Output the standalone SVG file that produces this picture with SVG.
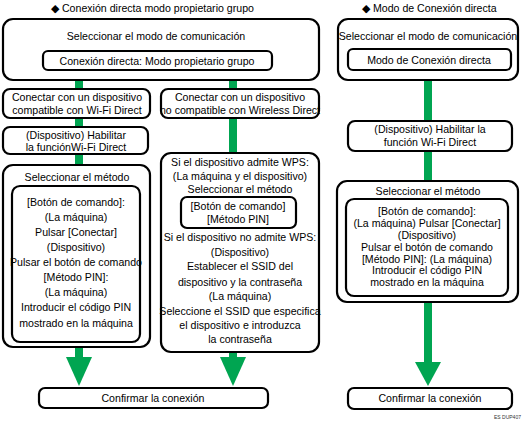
<svg xmlns="http://www.w3.org/2000/svg" width="524" height="422" viewBox="0 0 524 422">
<style>
.b{fill:#fff;stroke:#000;stroke-width:2.2}
text{font-family:"Liberation Sans",Arial,sans-serif;font-size:10.6px;fill:#000;text-anchor:middle}
.t{text-anchor:start}
.g{fill:#00a551}
.s{font-size:5px;text-anchor:start;fill:#333}
</style>
<rect width="524" height="422" fill="#fff"/>
<g id="connectors">
<rect class="g" x="75" y="80" width="8" height="10"/>
<rect class="g" x="229" y="80" width="8" height="10"/>
<rect class="g" x="75" y="118" width="8" height="10"/>
<rect class="g" x="75" y="154" width="8" height="12"/>
<rect class="g" x="229" y="118" width="8" height="36"/>
<rect class="g" x="75" y="346" width="8" height="12"/>
<polygon class="g" points="66,357 92,357 79,386"/>
<rect class="g" x="229" y="351" width="8" height="7"/>
<polygon class="g" points="220,357 246,357 233,386"/>
<rect class="g" x="424" y="80" width="8" height="41"/>
<rect class="g" x="424" y="151" width="8" height="30"/>
<rect class="g" x="424" y="302" width="8" height="61"/>
<polygon class="g" points="415,362 441,362 428,386"/>
</g>
<g id="title1"><text class="t" x="51" y="12">◆ Conexión directa modo propietario grupo</text></g>
<g id="title2"><text class="t" x="362" y="12">◆ Modo de Conexión directa</text></g>
<g id="selmodo1">
<rect class="b" x="3" y="19" width="316" height="61" rx="10"/>
<text x="156" y="40">Seleccionar el modo de comunicación</text>
<rect class="b" x="43" y="51" width="229" height="19" rx="5"/>
<text x="157" y="64.5">Conexión directa: Modo propietario grupo</text>
</g>
<g id="conectar1">
<rect class="b" x="3" y="89" width="147" height="29" rx="7"/>
<text x="77" y="101">Conectar con un dispositivo</text>
<text x="77" y="114">compatible con Wi-Fi Direct</text>
</g>
<g id="conectar2">
<rect class="b" x="161" y="89" width="158" height="29" rx="7"/>
<text x="240" y="101">Conectar con un dispositivo</text>
<text x="240" y="114">no compatible con Wireless Direct</text>
</g>
<g id="habilitar1">
<rect class="b" x="3" y="127" width="145" height="27" rx="7"/>
<text x="76" y="139">(Dispositivo) Habilitar</text>
<text x="76" y="151">la funciónWi-Fi Direct</text>
</g>
<g id="metodo1">
<rect class="b" x="3" y="165" width="147" height="182" rx="10"/>
<text x="77" y="181">Seleccionar el método</text>
<rect class="b" x="12" y="186" width="128" height="156" rx="8"/>
<text x="76" y="206">[Botón de comando]:</text>
<text x="76" y="221">(La máquina)</text>
<text x="76" y="236">Pulsar [Conectar]</text>
<text x="76" y="251">(Dispositivo)</text>
<text x="76" y="266">Pulsar el botón de comando</text>
<text x="76" y="281">[Método PIN]:</text>
<text x="76" y="296">(La máquina)</text>
<text x="76" y="311">Introducir el código PIN</text>
<text x="76" y="327">mostrado en la máquina</text>
</g>
<g id="wps">
<rect class="b" x="161" y="153" width="158" height="199" rx="10"/>
<text x="240" y="166">Si el dispositivo admite WPS:</text>
<text x="240" y="180">(La máquina y el dispositivo)</text>
<text x="240" y="193">Seleccionar el método</text>
<rect class="b" x="181" y="197" width="115" height="31" rx="6"/>
<text x="238" y="210">[Botón de comando]</text>
<text x="238" y="223">[Método PIN]</text>
<text x="240" y="241">Si el dispositivo no admite WPS:</text>
<text x="240" y="256">(Dispositivo)</text>
<text x="240" y="270">Establecer el SSID del</text>
<text x="240" y="286">dispositivo y la contraseña</text>
<text x="240" y="300">(La máquina)</text>
<text x="240" y="315">Seleccione el SSID que especifica</text>
<text x="240" y="329">el dispositivo e introduzca</text>
<text x="240" y="343">la contraseña</text>
</g>
<g id="confirmar1">
<rect class="b" x="39" y="388" width="229" height="20" rx="6"/>
<text x="153" y="402">Confirmar la conexión</text>
</g>
<g id="selmodo2">
<rect class="b" x="338" y="19" width="180" height="61" rx="10"/>
<text x="428" y="40">Seleccionar el modo de comunicación</text>
<rect class="b" x="348" y="49" width="163" height="21" rx="5"/>
<text x="429" y="63.5">Modo de Conexión directa</text>
</g>
<g id="habilitar2">
<rect class="b" x="348" y="121" width="164" height="30" rx="7"/>
<text x="430" y="133">(Dispositivo) Habilitar la</text>
<text x="430" y="146">función Wi-Fi Direct</text>
</g>
<g id="metodo2">
<rect class="b" x="337" y="181" width="181" height="121" rx="10"/>
<text x="428" y="195">Seleccionar el método</text>
<rect class="b" x="346" y="199" width="162" height="97" rx="8"/>
<text x="427" y="215">[Botón de comando]:</text>
<text x="427" y="227">(La máquina) Pulsar [Conectar]</text>
<text x="427" y="239">(Dispositivo)</text>
<text x="427" y="251">Pulsar el botón de comando</text>
<text x="427" y="262.5">[Método PIN]: (La máquina)</text>
<text x="427" y="274">Introducir el código PIN</text>
<text x="427" y="286">mostrado en la máquina</text>
</g>
<g id="confirmar2">
<rect class="b" x="348" y="388" width="164" height="21" rx="6"/>
<text x="430" y="402">Confirmar la conexión</text>
</g>
<text class="s" x="494" y="419">ES DUP407</text>
</svg>
